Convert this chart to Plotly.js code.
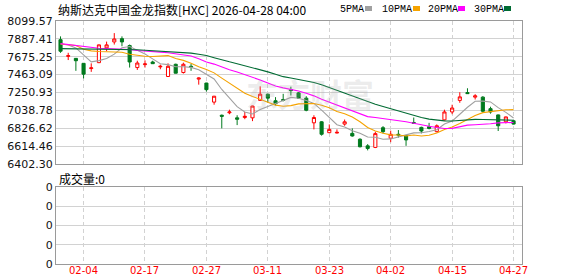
<!DOCTYPE html>
<html>
<head>
<meta charset="utf-8">
<script src="https://cdn.plot.ly/plotly-3.0.1.min.js"></script>
<style>
html,body{margin:0;padding:0;background:#fff;}
#chart{width:578px;height:276px;}
</style>
</head>
<body>
<div id="chart"></div>
<script>
// ---- data ----
const dates = ['01-30','02-02','02-03','02-04','02-05','02-06','02-09','02-10','02-11','02-12',
  '02-13','02-17','02-18','02-19','02-20','02-23','02-24','02-25','02-26','02-27',
  '03-02','03-03','03-04','03-05','03-06','03-09','03-10','03-11','03-12','03-13',
  '03-16','03-17','03-18','03-19','03-20','03-23','03-24','03-25','03-26','03-27',
  '03-30','03-31','04-01','04-02','04-06','04-07','04-08','04-09','04-10','04-13',
  '04-14','04-15','04-16','04-17','04-20','04-21','04-22','04-23','04-24','04-27'];

const open = [7878,7680,7656,7597,7535,7605,7781,7851,7890,7808,
  7547,7582,7613,7555,7441,7586,7488,7562,7410,7363,
  7137,6981,7010,6950,6954,6950,7157,7231,7153,7168,
  7285,7246,7184,6891,6903,6774,6770,6876,6766,6696,
  6618,6599,6833,6708,6755,6739,6895,6837,6845,6786,
  6926,7020,7157,7250,7196,7196,7059,6985,6903,6915];
const high = [7917,7722,7660,7600,7597,7820,7855,7956,7917,7820,
  7628,7632,7628,7582,7597,7593,7605,7593,7430,7366,
  7210,6989,7047,6981,7020,7094,7324,7235,7196,7235,
  7320,7254,7207,6981,6911,6872,6813,6930,6825,6708,
  6638,6786,6852,6798,6805,6747,6954,6845,6891,6872,
  7047,7106,7254,7301,7231,7207,7082,6989,6965,6923];
const low = [7722,7636,7508,7418,7496,7600,7742,7820,7800,7547,
  7519,7547,7590,7527,7438,7478,7476,7508,7344,7262,
  7106,6825,6993,6864,6934,6911,7157,7129,7098,7145,
  7215,7176,7028,6813,6739,6774,6766,6856,6727,6599,
  6564,6591,6766,6661,6716,6618,6880,6766,6813,6778,
  6919,6993,7129,7234,7168,7012,7000,6794,6884,6872];
const close = [7741,7688,7628,7469,7543,7816,7816,7886,7851,7613,
  7601,7590,7593,7562,7562,7480,7586,7554,7422,7285,
  7207,6969,7020,6934,6969,7090,7231,7184,7118,7157,
  7274,7184,7040,6954,6755,6813,6778,6903,6735,6607,
  6587,6763,6786,6755,6747,6688,6884,6794,6825,6856,
  7020,7067,7199,7238,7211,7028,7020,6856,6961,6876];

const ma5 = [7827,7815,7780,7702,7614,7629,7654,7706,7782,7796,
  7753,7708,7650,7592,7582,7557,7557,7549,7521,7465,
  7411,7287,7181,7083,7020,6996,7049,7082,7118,7156,
  7193,7183,7155,7122,7041,6949,6868,6841,6797,6767,
  6722,6719,6696,6700,6728,6748,6772,6774,6788,6809,
  6876,6912,6993,7076,7147,7149,7139,7071,7015,6948];
const ma10 = [7827,7820,7808,7765,7745,7738,7736,7735,7728,7705,
  7691,7681,7678,7687,7689,7655,7632,7599,7556,7524,
  7484,7422,7365,7302,7243,7204,7168,7131,7101,7088,
  7095,7116,7118,7120,7099,7071,7026,6998,6959,6904,
  6836,6794,6768,6748,6747,6735,6746,6735,6744,6769,
  6812,6842,6884,6932,6978,7012,7026,7032,7046,7048];
const ma20 = [7831,7820,7808,7792,7780,7777,7773,7769,7769,7761,
  7749,7745,7738,7730,7722,7710,7700,7685,7652,7614,
  7588,7552,7521,7495,7466,7430,7400,7365,7329,7306,
  7289,7269,7241,7211,7171,7137,7097,7064,7030,6996,
  6965,6955,6943,6934,6923,6903,6886,6866,6851,6836,
  6824,6825,6845,6864,6868,6872,6880,6891,6893,6895];
const ma30 = [7772,7771,7770,7769,7768,7768,7767,7766,7765,7762,
  7758,7753,7748,7743,7738,7735,7730,7718,7704,7690,
  7664,7636,7615,7593,7570,7546,7522,7496,7468,7439,
  7423,7406,7387,7370,7343,7310,7275,7243,7205,7172,
  7138,7111,7084,7057,7030,7003,6980,6954,6935,6920,
  6914,6913,6920,6930,6932,6930,6927,6923,6922,6922];
const volume = [0,0,0,0,0,0,0,0,0,0, 0,0,0,0,0,0,0,0,0,0,
  0,0,0,0,0,0,0,0,0,0, 0,0,0,0,0,0,0,0,0,0,
  0,0,0,0,0,0,0,0,0,0, 0,0,0,0,0,0,0,0,0,0];

const tickLabels = ['02-04','02-17','02-27','03-11','03-23','04-02','04-15','04-27'];
const priceTicks = [6402.30,6614.46,6826.62,7038.78,7250.93,7463.09,7675.25,7887.41,8099.57];
const volTicks = [0,1,2,3,4];
const volTickText = ['0','0','0','0','0'];

const maNames = ['5PMA','10PMA','20PMA','30PMA'];
const maColors = ['#a0a0a0','#f5a300','#ff00ff','#006b33'];
const maSeries = [ma5, ma10, ma20, ma30];

const titleText = '纳斯达克中国金龙指数[HXC] 2026-04-28 04:00';
const volText = '成交量:0';

// ---- traces ----
const traces = [];
traces.push({
  type:'candlestick', x:dates, open:open, high:high, low:low, close:close,
  xaxis:'x', yaxis:'y', whiskerwidth:0, hoverinfo:'skip', showlegend:false,
  increasing:{line:{color:'#ff0000', width:1}, fillcolor:'#ffffff'},
  decreasing:{line:{color:'#007a1e', width:1}, fillcolor:'#007a1e'}
});
maSeries.forEach((s,k)=>{
  traces.push({type:'scatter', mode:'lines', x:dates, y:s, xaxis:'x', yaxis:'y',
    line:{color:maColors[k], width:1.1}, hoverinfo:'skip', showlegend:false, name:maNames[k]});
});
traces.push({type:'bar', x:dates, y:volume, xaxis:'x2', yaxis:'y2', marker:{color:'#ff0000'},
  hoverinfo:'skip', showlegend:false});

// ---- layout ----
const W=578, H=276, L=56, R=56, T=21, B=12;
const pw = W-L-R, ph = H-T-B;
const px = v => (v-L)/pw;
const py = v => (H-B-v)/ph;

const gridC = '#d2d2d2';
const lineC = '#9a9a9a';
const xRange = [-0.59, 60.1];

const annotations = [];
annotations.push({xref:'paper', yref:'paper', x:px(56), y:py(9), xanchor:'left', yanchor:'middle',
  text:titleText, showarrow:false, font:{family:'Noto Sans CJK SC', size:12, color:'#000'}});
annotations.push({xref:'paper', yref:'paper', x:px(57), y:py(178), xanchor:'left', yanchor:'middle',
  text:volText, showarrow:false, font:{family:'Noto Sans CJK SC', size:12, color:'#000'}});
annotations.push({xref:'paper', yref:'paper', x:px(310), y:py(93), xanchor:'center', yanchor:'middle',
  text:'东方财富', showarrow:false, font:{family:'Noto Sans CJK SC', size:32, color:'rgba(170,170,170,0.22)', weight:700}});

// date labels under the volume panel, placed on the category axis
tickLabels.forEach(t=>{
  annotations.push({xref:'x2', yref:'paper', x:t, y:py(270), xanchor:'center', yanchor:'middle',
    text:t, showarrow:false, font:{family:'DejaVu Sans', size:10, color:'#ff0000'}});
});

const legX = [338, 380, 426, 472];
const boxX = [365, 413, 458, 504];
const shapes = [];
maNames.forEach((n,k)=>{
  annotations.push({xref:'paper', yref:'paper', x:px(legX[k]), y:py(9), xanchor:'left', yanchor:'middle',
    text:n, showarrow:false, font:{family:'Liberation Mono', size:10, color:'#000'}});
  shapes.push({type:'rect', xref:'paper', yref:'paper', x0:px(boxX[k]), x1:px(boxX[k]+7),
    y0:py(11), y1:py(6), fillcolor:maColors[k], line:{width:0}});
});

const layout = {
  width:W, height:H, margin:{l:L, r:R, t:T, b:B, pad:0},
  paper_bgcolor:'#fff', plot_bgcolor:'#fff', showlegend:false, boxgap:0.42,
  font:{family:'DejaVu Sans', size:11, color:'#000'},
  xaxis:{type:'category', categoryorder:'array', categoryarray:dates, range:xRange,
    anchor:'y', domain:[0,1], rangeslider:{visible:false},
    tickvals:tickLabels, showticklabels:false, ticks:'',
    showgrid:true, gridcolor:gridC, griddash:'4px,3px', gridwidth:1,
    showline:true, mirror:true, linecolor:lineC, linewidth:1, zeroline:false, fixedrange:true},
  yaxis:{domain:[py(164), 1], range:[priceTicks[0], priceTicks[priceTicks.length-1]], anchor:'x',
    tickvals:priceTicks, ticktext:priceTicks.map(v=>v.toFixed(2)), ticks:'',
    tickfont:{family:'DejaVu Sans', size:11, color:'#111'},
    showgrid:true, gridcolor:gridC, gridwidth:1,
    showline:true, mirror:true, linecolor:lineC, linewidth:1, zeroline:false, fixedrange:true},
  xaxis2:{type:'category', categoryorder:'array', categoryarray:dates, range:xRange,
    anchor:'y2', domain:[0,1],
    tickvals:tickLabels, showticklabels:false, ticks:'',
    showgrid:true, gridcolor:gridC, griddash:'4px,3px', gridwidth:1,
    showline:true, mirror:true, linecolor:lineC, linewidth:1, zeroline:false, fixedrange:true},
  yaxis2:{domain:[0, py(187)], range:[0,4], anchor:'x2',
    tickvals:volTicks, ticktext:volTickText, ticks:'',
    tickfont:{family:'DejaVu Sans', size:11, color:'#111'},
    showgrid:true, gridcolor:gridC, gridwidth:1,
    showline:true, mirror:true, linecolor:lineC, linewidth:1, zeroline:false, fixedrange:true},
  annotations:annotations, shapes:shapes
};

Plotly.newPlot('chart', traces, layout, {staticPlot:true, displayModeBar:false});
</script>
</body>
</html>
